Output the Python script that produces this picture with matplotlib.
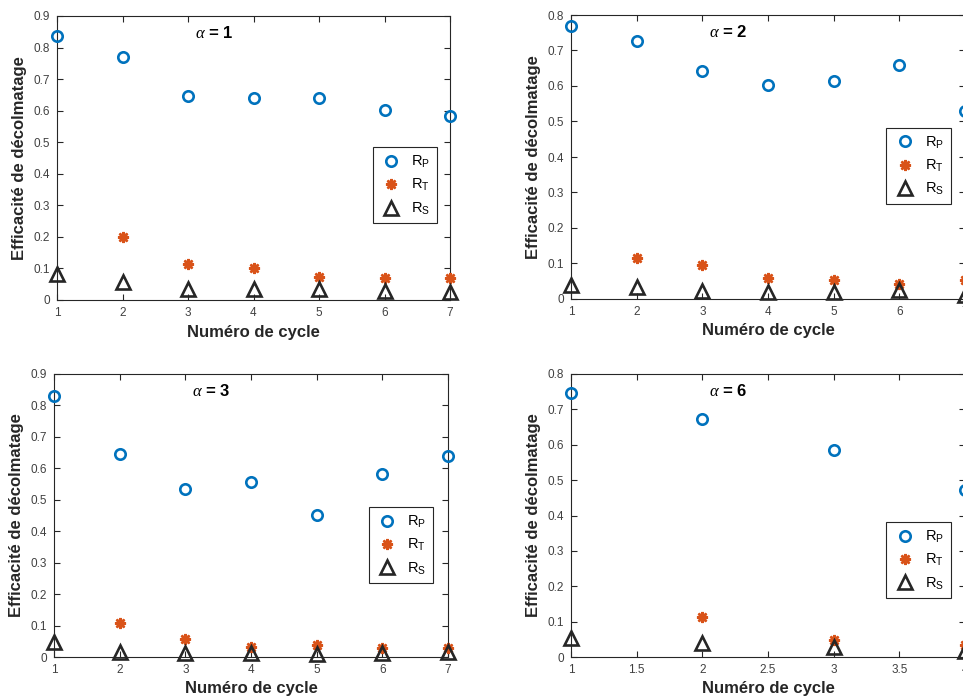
import numpy as np
import matplotlib
matplotlib.use("Agg")
import matplotlib.pyplot as plt
from matplotlib.ticker import FormatStrFormatter, MultipleLocator

plt.rcParams['font.family'] = ['Liberation Sans', 'DejaVu Sans']
plt.rcParams['mathtext.fontset'] = 'custom'
plt.rcParams['mathtext.rm'] = 'Liberation Sans'
plt.rcParams['mathtext.it'] = 'Liberation Serif:italic'
plt.rcParams['mathtext.bf'] = 'Liberation Sans:bold'

# alpha = 1
a1_x = [1, 2, 3, 4, 5, 6, 7]
a1_rp = [0.837, 0.771, 0.646, 0.641, 0.641, 0.603, 0.582]
a1_rt_x = [2, 3, 4, 5, 6, 7]
a1_rt = [0.200, 0.114, 0.102, 0.074, 0.070, 0.069]
a1_rs = [0.082, 0.057, 0.034, 0.034, 0.034, 0.029, 0.025]

# alpha = 2
a2_x = [1, 2, 3, 4, 5, 6, 7]
a2_rp = [0.770, 0.727, 0.643, 0.603, 0.615, 0.658, 0.529]
a2_rt_x = [2, 3, 4, 5, 6, 7]
a2_rt = [0.116, 0.096, 0.059, 0.054, 0.043, 0.054]
a2_rs = [0.040, 0.034, 0.023, 0.020, 0.020, 0.026, 0.011]

# alpha = 3
a3_x = [1, 2, 3, 4, 5, 6, 7]
a3_rp = [0.831, 0.645, 0.535, 0.557, 0.451, 0.581, 0.638]
a3_rt_x = [2, 3, 4, 5, 6, 7]
a3_rt = [0.108, 0.057, 0.032, 0.039, 0.029, 0.030]
a3_rs = [0.047, 0.017, 0.012, 0.014, 0.008, 0.014, 0.016]

# alpha = 6
a6_x = [1, 2, 3, 4]
a6_rp = [0.745, 0.672, 0.584, 0.471]
a6_rt_x = [2, 3, 4]
a6_rt = [0.114, 0.048, 0.033]
a6_rs = [0.053, 0.039, 0.028, 0.016]

blue = '#0072BD'
orange = '#D95319'
dark = '#262626'


def panel(fig, rect, x, rp, rt_x, rt, rs, alpha, ymax, xmax, xstep, leg_anchor):
    ax = fig.add_axes(rect)
    ax.plot(x, rp, 'o', ms=7.5, mew=1.9, mfc='none', mec=blue, clip_on=False, label=r'R$_\mathrm{P}$', zorder=3)
    ax.plot(rt_x, rt, ls='none', marker=(8, 2, 0), ms=8, mew=1.8, mec=orange, clip_on=False, label=r'R$_\mathrm{T}$', zorder=3)
    ax.plot(x, rs, '^', ms=10, mew=1.9, mfc='none', mec=dark, clip_on=False, label=r'R$_\mathrm{S}$', zorder=3)

    ax.set_xlim(1, xmax)
    ax.set_ylim(0, ymax)
    ax.xaxis.set_major_locator(MultipleLocator(xstep))
    ax.yaxis.set_major_locator(MultipleLocator(0.1))
    ax.xaxis.set_major_formatter(FormatStrFormatter('%g'))
    ax.yaxis.set_major_formatter(FormatStrFormatter('%g'))
    ax.tick_params(direction='in', top=True, right=True, length=4, width=0.8,
                   labelsize=8.5, colors=dark, labelcolor='#404040', pad=5)
    for s in ax.spines.values():
        s.set_color(dark)
        s.set_linewidth(0.8)

    ax.set_xlabel('Numéro de cycle', fontsize=12, fontweight='bold', color=dark, labelpad=4)
    ax.set_ylabel('Efficacité de décolmatage', fontsize=12, fontweight='bold', color=dark, labelpad=5)
    ax.text(0.35, 0.94, r'$\alpha$ = %d' % alpha, transform=ax.transAxes,
            fontsize=12, fontweight='bold', color='black', va='center', ha='left')

    leg = ax.legend(loc='upper right', bbox_to_anchor=leg_anchor, fontsize=10.5,
                    fancybox=False, edgecolor=dark, framealpha=1,
                    handletextpad=0.6, borderpad=0.45, labelspacing=0.5,
                    handlelength=1.6)
    leg.get_frame().set_linewidth(0.8)
    return ax


fig = plt.figure(figsize=(9.63, 6.99), dpi=100)

panel(fig, [57 / 963, 399 / 699, 393 / 963, 284 / 699], a1_x, a1_rp, a1_rt_x, a1_rt, a1_rs,
      1, 0.9, 7, 1, (0.985, 0.563))
panel(fig, [571 / 963, 400 / 699, 394 / 963, 284 / 699], a2_x, a2_rp, a2_rt_x, a2_rt, a2_rs,
      2, 0.8, 7, 1, (0.982, 0.628))
panel(fig, [54 / 963, 42 / 699, 394 / 963, 283 / 699], a3_x, a3_rp, a3_rt_x, a3_rt, a3_rs,
      3, 0.9, 7, 1, (0.98, 0.555))
panel(fig, [571 / 963, 42 / 699, 394 / 963, 283 / 699], a6_x, a6_rp, a6_rt_x, a6_rt, a6_rs,
      6, 0.8, 4, 0.5, (0.982, 0.502))

fig.savefig('out.png', dpi=100)
